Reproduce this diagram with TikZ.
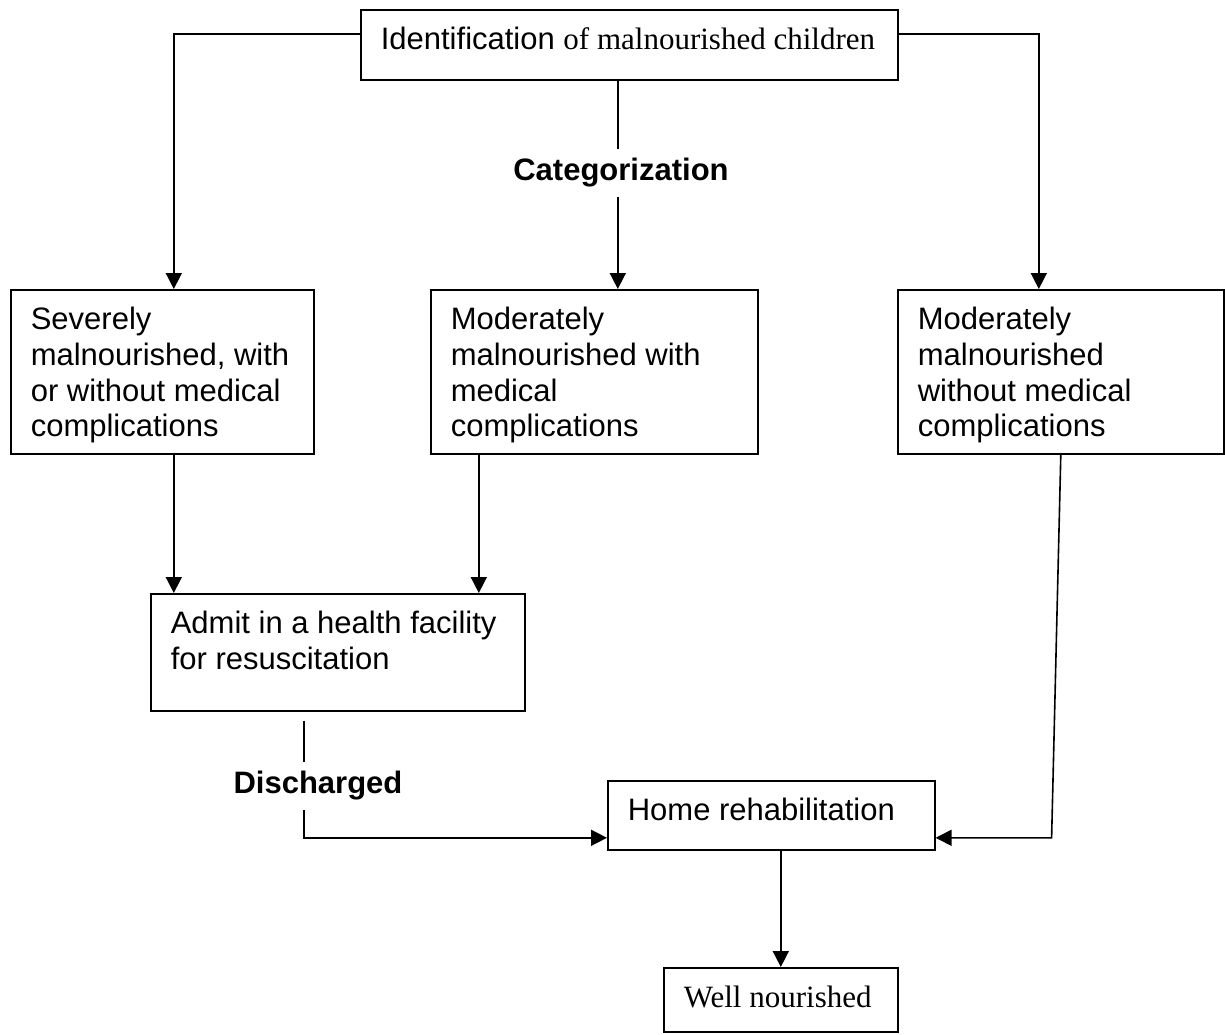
\documentclass[tikz,border=0pt]{standalone}
\usepackage{fontspec}
\setmainfont{Liberation Sans}
\newfontfamily\timesface{Liberation Serif}
\usetikzlibrary{arrows.meta}
\newcommand{\boxtext}[3]{\parbox[c][#2][t]{#1}{\raggedright\leftskip=10pt\rule{0pt}{20pt}#3}}

\begin{document}
\begin{tikzpicture}[x=0.5pt, y=-0.5pt,
  box/.style={draw, line width=0.8pt, inner sep=0pt, anchor=north west, font=\fontsize{15.5}{17.8}\selectfont},
  arr/.style={line width=0.8pt, -{Triangle[length=8pt, width=8pt]}},
  lbl/.style={inner xsep=2pt, inner ysep=4.5pt, font=\fontsize{15.5}{17.8}\selectfont\bfseries}]
\useasboundingbox (0,0) rectangle (1225,1034);

% boxes
\node[box] (ident) at (360,9) {\boxtext{268.5pt}{35pt}{Identification {\timesface of malnourished children}}};
\node[box] (sev) at (10,289) {\boxtext{151.5pt}{82pt}{Severely\\ malnourished, with\\ or without medical\\ complications}};
\node[box] (modw) at (430,289) {\boxtext{163.5pt}{82pt}{Moderately\\ malnourished with\\ medical\\ complications}};
\node[box] (modwo) at (897,289) {\boxtext{163pt}{82pt}{Moderately\\ malnourished\\ without medical\\ complications}};
\node[box] (admit) at (150,593) {\boxtext{187pt}{58.5pt}{Admit in a health facility\\ for resuscitation}};
\node[box] (home) at (607,780) {\boxtext{163.5pt}{34.5pt}{Home rehabilitation}};
\node[box] (well) at (663,967) {\boxtext{117pt}{32pt}{\timesface Well nourished}};

% labels on the lines
\node[lbl] (cat) at (621,173) {Categorization};
\node[lbl] (dis) at (318,786) {Discharged};

% edges
\draw[arr] ([yshift=5.5pt]ident.west) -| ([xshift=5.75pt]sev.north);
\draw[arr] ([yshift=5.5pt]ident.east) -| ([xshift=-11pt]modwo.north);
\draw[line width=0.8pt] ([xshift=-5.75pt]ident.south) -- ([xshift=-5.75pt]ident.south |- cat.north);
\draw[arr] ([xshift=-5.75pt]ident.south |- cat.south) -- ([xshift=-5.75pt]ident.south |- modw.north);
\draw[arr] ([xshift=5.75pt]sev.south) -- ([xshift=5.75pt]sev.south |- admit.north);
\draw[arr] ([xshift=-57.75pt]modw.south) -- ([xshift=-57.75pt]modw.south |- admit.north);
\coordinate (dtop) at ([xshift=-17pt, yshift=-4.5pt]admit.south);
\draw[line width=0.8pt] (dtop) -- (dtop |- dis.north);
\draw[arr] (dtop |- dis.south) |- ([yshift=-11.25pt]home.west);
\coordinate (rbend) at ([xshift=58pt, yshift=-11.25pt]home.east);
\draw[arr] (modwo.south) -- (rbend) -- ([yshift=-11.25pt]home.east);
\draw[arr] ([xshift=4.75pt]home.south) -- (well.north);
\end{tikzpicture}
\end{document}
